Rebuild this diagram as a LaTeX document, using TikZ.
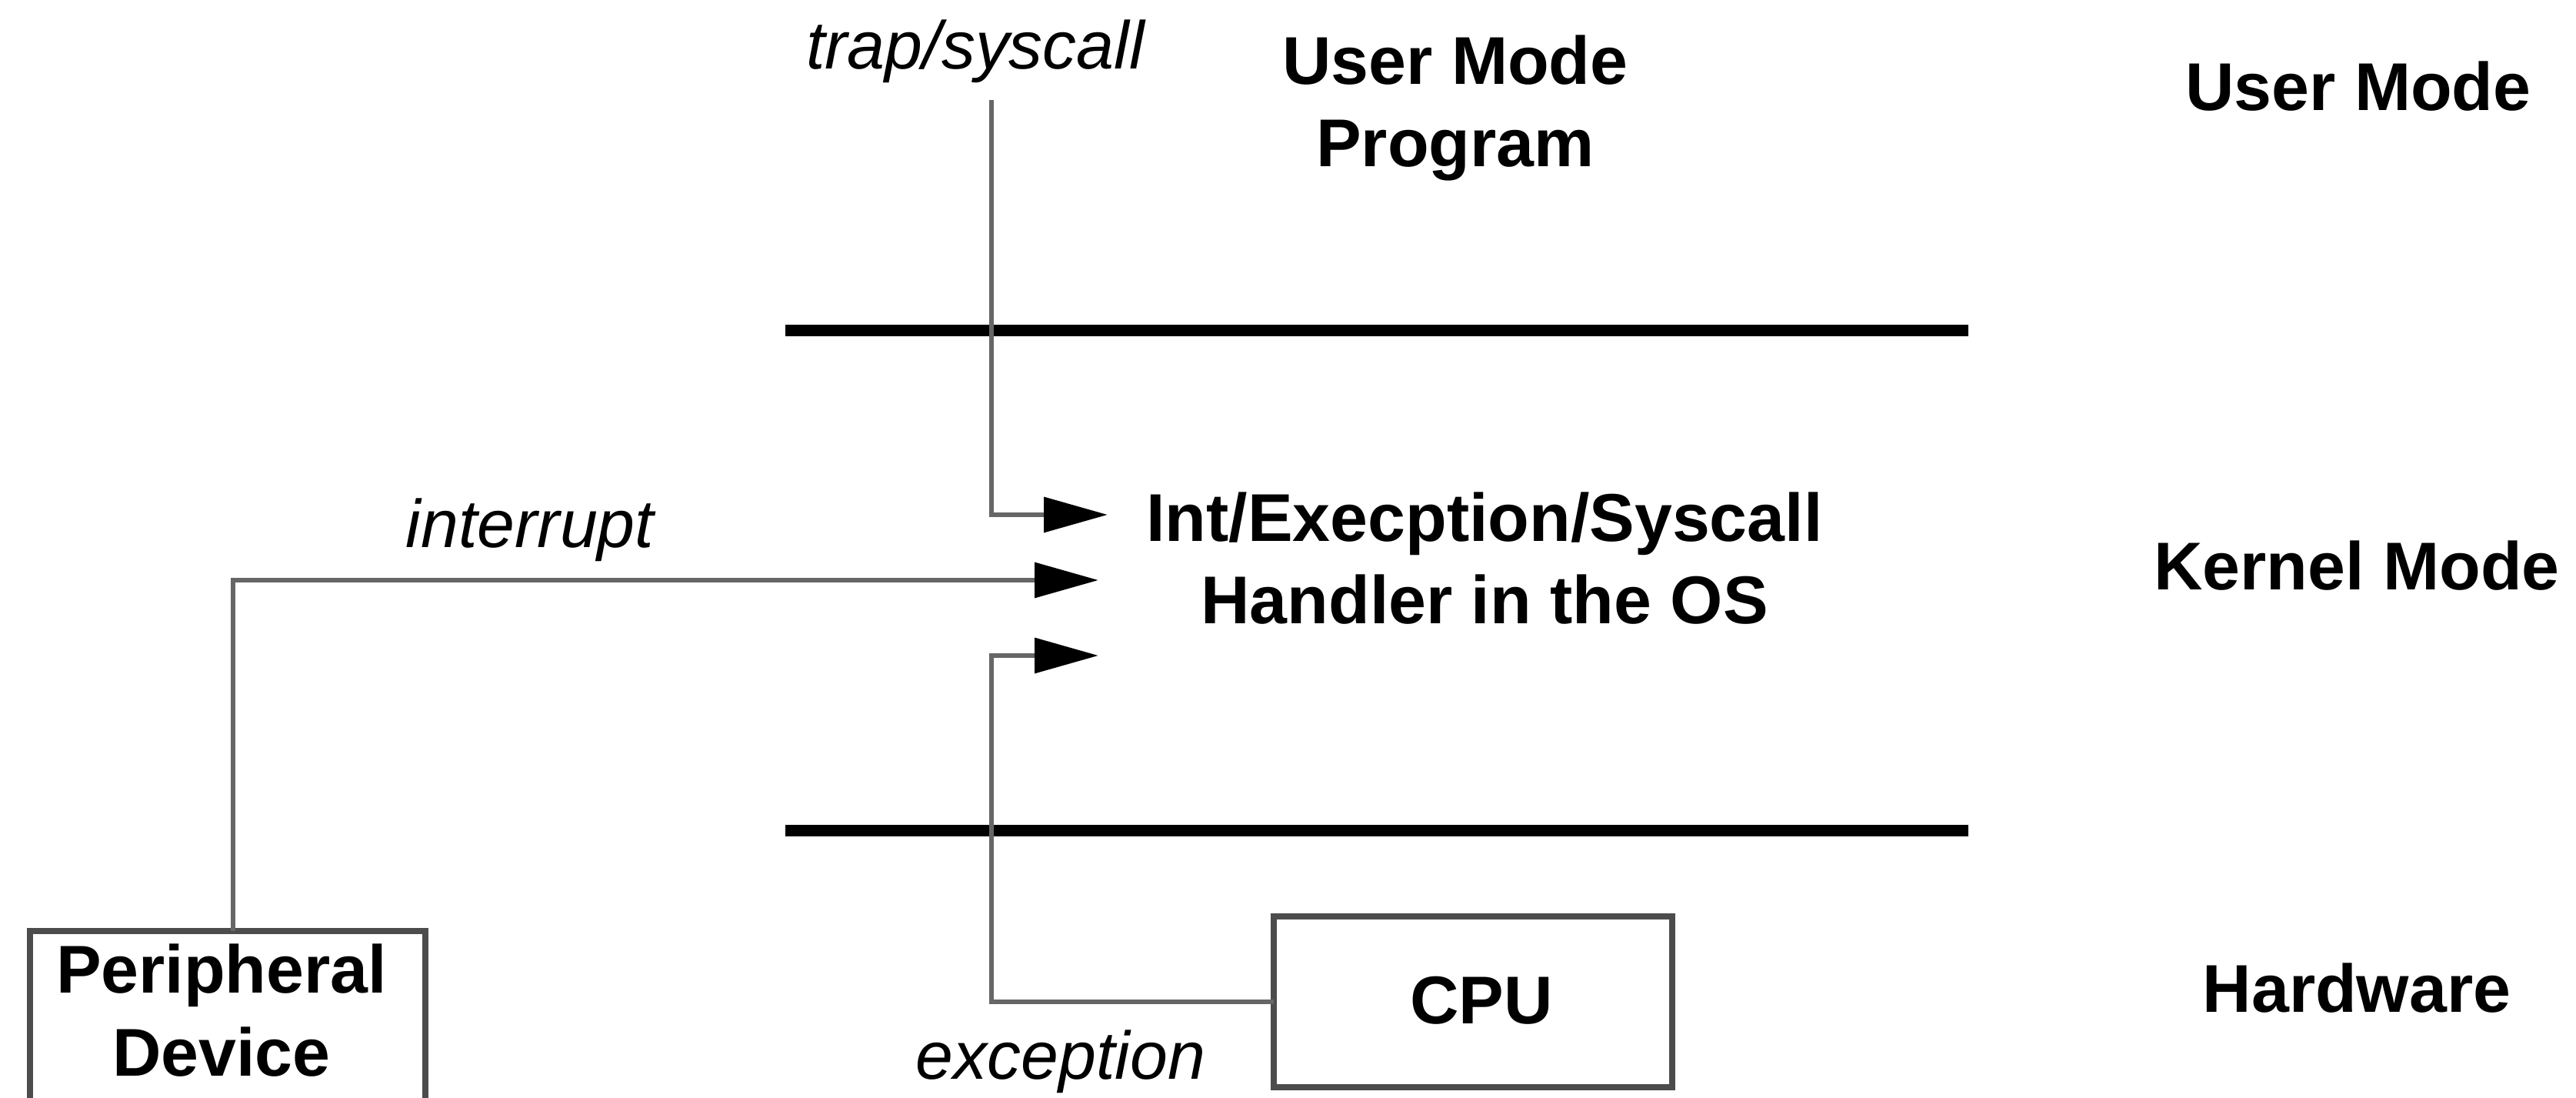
\documentclass[tikz,border=0pt]{standalone}
\usepackage{fontspec}
\setmainfont{Liberation Sans}
\usetikzlibrary{arrows.meta}

\begin{document}
\begin{tikzpicture}[
  x=1cm, y=1cm,
  every node/.style={inner sep=0pt, outer sep=0pt},
  boldtext/.style={font=\fontsize{25}{30.5}\selectfont\bfseries, align=center},
  itext/.style={font=\fontsize{25}{30.5}\selectfont\itshape},
  layerline/.style={line width=0.15cm, black},
  conn/.style={line width=0.065cm, black!60,
    -{Triangle[length=0.83cm, width=0.45cm, color=black]}},
  hwbox/.style={draw=black!70, line width=0.08cm, fill=white}
]
% page frame
\useasboundingbox (0,0) rectangle (33.49,-14.27);
\clip (0,0) rectangle (33.49,-14.27);

% mode separators
\draw[layerline] (10.21,-4.30) -- (25.59,-4.30);
\draw[layerline] (10.21,-10.79) -- (25.59,-10.79);

% layer names on the right
\node[boldtext, anchor=base] (lumode) at (30.66,-1.44) {User Mode};
\node[boldtext, anchor=base] (lkmode) at (30.64,-7.67) {Kernel Mode};
\node[boldtext, anchor=base] (lhw) at (30.64,-13.15) {Hardware};

% user program and the kernel handler (base = last line)
\node[boldtext, anchor=base] (prog) at (18.92,-2.17) {User Mode\\Program};
\node[boldtext, anchor=base] (handler) at (19.30,-8.11) {Int/Execption/Syscall\\Handler in the OS};

% hardware boxes
\node[hwbox, minimum width=5.14cm, minimum height=3.0cm, anchor=north] (periph) at (2.96,-12.10) {};
\node[boldtext, anchor=base] (periphtxt) at (2.88,-13.98) {Peripheral\\Device};
\node[hwbox, minimum width=5.18cm, minimum height=2.22cm] (cpu) at (19.15,-13.02) {};
\node[boldtext] (cputxt) at (19.26,-13.00) {CPU};

% arrow targets in front of the handler
\coordinate (trapin) at (12.89,-1.30);
\coordinate (hT) at (14.40,-6.69);
\coordinate (hI) at (14.28,-7.54);
\coordinate (hE) at (14.28,-8.52);

% connectors
\draw[conn] (trapin) |- (hT);
\draw[conn] ([xshift=0.07cm]periph.north) |- (hI);
\draw[conn] (cpu.west) -| (12.89,-10.0) |- (hE);

% connector labels
\node[itext, anchor=base] (ltrap) at (12.68,-0.90) {trap/syscall};
\node[itext, anchor=base] (lint) at (6.89,-7.12) {interrupt};
\node[itext, anchor=base] (lexc) at (13.79,-14.02) {exception};
\end{tikzpicture}
\end{document}
